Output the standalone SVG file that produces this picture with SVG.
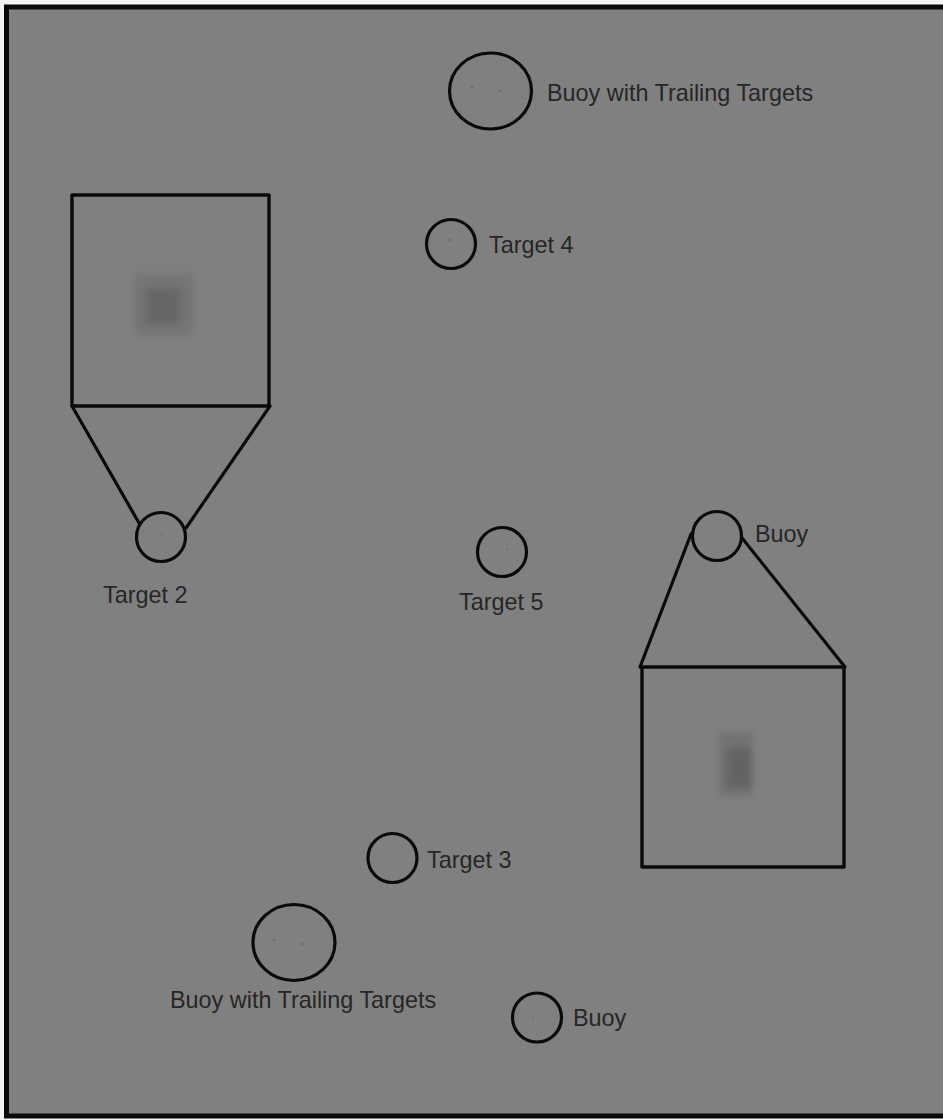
<svg xmlns="http://www.w3.org/2000/svg" width="943" height="1120" viewBox="0 0 943 1120">
  <defs>
    <style>
      .ring { fill: none; stroke: #0a0a0a; stroke-width: 3.2; }
      .box { fill: none; stroke: #0a0a0a; stroke-width: 3.4; stroke-linejoin: round; }
      .tether { stroke: #0a0a0a; stroke-width: 3.2; stroke-linecap: round; fill: none; }
      .lbl { font-family: "Liberation Sans", Arial, sans-serif; font-size: 23.4px; fill: #262626; }
      .dot { fill: #6c6c6c; }
    </style>
    <filter id="blur" x="-50%" y="-50%" width="200%" height="200%">
      <feGaussianBlur stdDeviation="3.5"/>
    </filter>
  </defs>

  <rect x="0" y="0" width="943" height="1120" fill="#f4f4f4"/>
  <rect x="6.5" y="7" width="960" height="1109" fill="#808080" stroke="#0a0a0a" stroke-width="5"/>

  <!-- sonar returns -->
  <g id="returns">
    <g filter="url(#blur)">
      <rect x="134" y="274" width="60" height="62" fill="#747474"/>
      <rect x="146" y="288" width="34" height="36" fill="#666666"/>
      <rect x="719" y="732" width="34" height="64" fill="#727272"/>
      <rect x="727" y="748" width="24" height="40" fill="#646464"/>
    </g>
  </g>

  <g id="connectors">
    <line class="tether" x1="72" y1="406" x2="139" y2="523"/>
    <line class="tether" x1="270" y1="406" x2="186" y2="528"/>
    <line class="tether" x1="691" y1="534" x2="640" y2="667"/>
    <line class="tether" x1="742" y1="538" x2="845" y2="667"/>
  </g>

  <g id="zoom-box-1">
    <rect class="box" x="72" y="195" width="197" height="211"/>
  </g>
  <g id="zoom-box-2">
    <rect class="box" x="642" y="667" width="202" height="200"/>
  </g>

  <g id="buoy-trailing-top">
    <ellipse class="ring" cx="490.5" cy="91" rx="41" ry="38"/>
    <circle class="dot" cx="472" cy="87" r="1.2"/>
    <circle class="dot" cx="500" cy="91" r="1.2"/>
    <text class="lbl" x="547" y="101">Buoy with Trailing Targets</text>
  </g>

  <g id="target-4">
    <circle class="ring" cx="451" cy="244" r="24.5"/>
    <circle class="dot" cx="450" cy="240" r="1.3"/>
    <text class="lbl" x="489" y="253">Target 4</text>
  </g>

  <g id="target-2">
    <circle class="ring" cx="161" cy="537" r="24.5"/>
    <circle class="dot" cx="162" cy="534" r="1"/>
    <text class="lbl" x="103" y="603">Target 2</text>
  </g>

  <g id="target-5">
    <circle class="ring" cx="502" cy="552" r="24.5"/>
    <circle class="dot" cx="507" cy="549" r="1"/>
    <text class="lbl" x="459" y="610">Target 5</text>
  </g>

  <g id="buoy-right">
    <circle class="ring" cx="717" cy="536" r="24.5"/>
    <circle class="dot" cx="716" cy="536" r="1"/>
    <text class="lbl" x="755" y="542">Buoy</text>
  </g>

  <g id="target-3">
    <circle class="ring" cx="392.5" cy="858" r="24.5"/>
    <text class="lbl" x="427" y="868">Target 3</text>
  </g>

  <g id="buoy-trailing-bottom">
    <ellipse class="ring" cx="294" cy="942.5" rx="41" ry="38"/>
    <circle class="dot" cx="274" cy="940" r="1.3"/>
    <circle class="dot" cx="302" cy="944" r="1.2"/>
    <text class="lbl" x="170" y="1008">Buoy with Trailing Targets</text>
  </g>

  <g id="buoy-bottom">
    <circle class="ring" cx="537" cy="1017.5" r="24.5"/>
    <circle class="dot" cx="533" cy="1018" r="1"/>
    <text class="lbl" x="573" y="1026">Buoy</text>
  </g>
</svg>
